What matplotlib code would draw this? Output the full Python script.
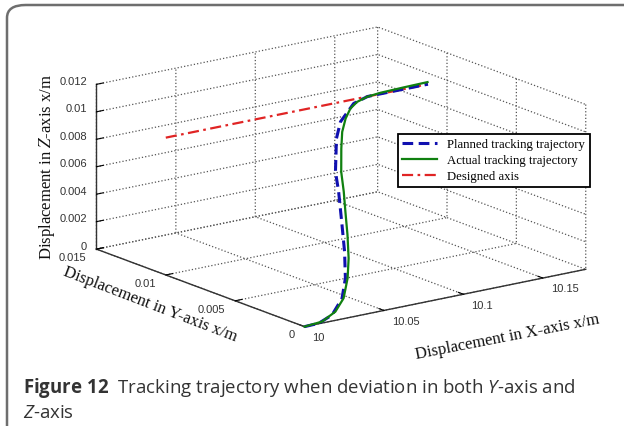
import matplotlib
matplotlib.use('Agg')
import matplotlib.pyplot as plt
from matplotlib.patches import FancyBboxPatch

# ---------------- data ----------------
x_actual = [10.0, 10.0117, 10.0229, 10.0328, 10.0430, 10.0516, 10.0604, 10.0686,
            10.0757, 10.0823, 10.0917, 10.0989, 10.1061, 10.1128, 10.1191, 10.1266,
            10.1356, 10.1506, 10.1656]
y_actual = [0.0, 0.00007, 0.00040, 0.00094, 0.00182, 0.00273, 0.00382, 0.00491,
            0.00584, 0.00678, 0.00785, 0.00861, 0.00919, 0.00961, 0.00985, 0.00999,
            0.01005, 0.01008, 0.0101]
z_actual = [0.0, 0.00007, 0.00040, 0.00094, 0.00182, 0.00273, 0.00382, 0.00491,
            0.00584, 0.00678, 0.00785, 0.00861, 0.00919, 0.00961, 0.00985, 0.00999,
            0.01005, 0.01008, 0.0101]

x_planned = [10.0, 10.0091, 10.0198, 10.0319, 10.0418, 10.0521, 10.0614, 10.0729,
             10.0792, 10.0931, 10.1020, 10.1166, 10.127, 10.165]
y_planned = [0.0, 0.00002, 0.00028, 0.00095, 0.00184, 0.00308, 0.00433, 0.00589,
             0.00684, 0.00836, 0.00909, 0.00981, 0.0100, 0.0100]
z_planned = [0.0, 0.00002, 0.00028, 0.00095, 0.00184, 0.00308, 0.00433, 0.00589,
             0.00684, 0.00836, 0.00909, 0.00981, 0.0100, 0.0100]

x_design = [10.0, 10.165]
y_design = [0.01, 0.01]
z_design = [0.01, 0.01]

x_ticks = [10.0, 10.05, 10.1, 10.15]
x_ticklabels = ['10', '10.05', '10.1', '10.15']
y_ticks = [0.0, 0.005, 0.01, 0.015]
y_ticklabels = ['0', '0.005', '0.01', '0.015']
z_ticks = [0.0, 0.002, 0.004, 0.006, 0.008, 0.01, 0.012]
z_ticklabels = ['0', '0.002', '0.004', '0.006', '0.008', '0.01', '0.012']

series_labels = ['Planned tracking trajectory', 'Actual tracking trajectory', 'Designed axis']
x_label = 'Displacement in X-axis x/m'
y_label = 'Displacement in Y-axis x/m'
z_label = r'Displacement in $\mathit{Z}$-axis x/m'
caption1 = r'$\mathbf{Figure\ 12}$  Tracking trajectory when deviation in both $\mathit{Y}$-axis and'
caption2 = r'$\mathit{Z}$-axis'

# ---------------- style ----------------
plt.rcParams['grid.linestyle'] = ':'
plt.rcParams['grid.color'] = '#555555'
plt.rcParams['grid.linewidth'] = 0.9
plt.rcParams['mathtext.fontset'] = 'custom'
plt.rcParams['mathtext.rm'] = 'Open Sans'
plt.rcParams['mathtext.it'] = 'Open Sans:italic'
plt.rcParams['mathtext.bf'] = 'Open Sans:bold'

W, H = 624, 427
fig = plt.figure(figsize=(W / 100, H / 100), dpi=100)

# rounded frame
frame = FancyBboxPatch((7 / W, -0.05), 1.2, 1 - 6 / H + 0.05,
                       boxstyle='round,pad=0,rounding_size=0.03',
                       transform=fig.transFigure, fill=False,
                       edgecolor='#6e6e6e', linewidth=1.8)
fig.patches.append(frame)

ax = fig.add_axes([0.073, 0.106, 0.93, 0.93], projection='3d', proj_type='ortho')
ax.view_init(elev=16, azim=-126.5)
ax.set_box_aspect((1, 1, 0.49), zoom=1.28)

ax.plot(x_planned, y_planned, z_planned, color='#1010b0', lw=2.2,
        linestyle=(0, (3.5, 1.8)), label=series_labels[0], zorder=3)
ax.plot(x_actual, y_actual, z_actual, color='#108010', lw=1.6,
        linestyle='-', label=series_labels[1], zorder=4)
ax.plot(x_design, y_design, z_design, color='#e02424', lw=1.6,
        linestyle=(0, (5, 2, 1.2, 2)), label=series_labels[2], zorder=2)

ax.set_xlim(10.0, 10.177)
ax.set_ylim(0.0, 0.015)
ax.set_zlim(0.0, 0.012)
ax.set_xticks(x_ticks)
ax.set_xticklabels(x_ticklabels, ha='left', va='center_baseline')
ax.set_yticks(y_ticks)
ax.set_yticklabels(y_ticklabels, ha='right', va='center')
ax.set_zticks(z_ticks)
ax.set_zticklabels(z_ticklabels, ha='right', va='baseline')

for lab in ax.get_xticklabels() + ax.get_yticklabels() + ax.get_zticklabels():
    lab.set_fontfamily('Liberation Sans')
    lab.set_fontsize(8)
    lab.set_color('#333333')

for axis in (ax.xaxis, ax.yaxis, ax.zaxis):
    axis.set_pane_color((1, 1, 1, 0))
    axis.pane.set_edgecolor('#666666')
    axis.pane.set_linestyle(':')
    axis.pane.set_linewidth(0.9)
    axis.line.set_color('#333333')
    axis.line.set_linewidth(1.0)
    axis._axinfo['tick']['inward_factor'] = 0.0
    axis._axinfo['tick']['outward_factor'] = 0.3
    axis._axinfo['tick']['color'] = '#333333'

ax.xaxis.set_tick_params(pad=-2.3)
ax.yaxis.set_tick_params(pad=-2.8)
ax.zaxis.set_tick_params(pad=-5.2)

ax.set_xlabel('')
ax.set_ylabel('')
ax.set_zlabel('')

lab_font = dict(family='Liberation Serif', size=12, color='#111111')
fig.text(47 / W, 1 - 167 / H, z_label, rotation=90, ha='center', va='center',
         math_fontfamily='stix', **lab_font)
fig.text(150 / W, 1 - 305 / H, y_label, rotation=-21, ha='center', va='center',
         rotation_mode='anchor', **lab_font)
fig.text(507 / W, 1 - 337 / H, x_label, rotation=11, ha='center', va='center',
         rotation_mode='anchor', **lab_font)

leg = ax.legend(loc='upper left', bbox_to_anchor=(398 / W, 1 - 135 / H),
                bbox_transform=fig.transFigure, prop=dict(family='Liberation Serif', size=9.2),
                frameon=True, fancybox=False, edgecolor='black', framealpha=1,
                handlelength=2.7, labelspacing=0.3, borderpad=0.35, handletextpad=0.8,
                borderaxespad=0)
leg.get_frame().set_linewidth(1.3)

cap_font = dict(family='Open Sans', size=13.4, color='#333333')
fig.text(23 / W, 1 - 388 / H, caption1, ha='left', va='center', **cap_font)
fig.text(23 / W, 1 - 413 / H, caption2, ha='left', va='center', **cap_font)

fig.savefig('out.png', dpi=100)
